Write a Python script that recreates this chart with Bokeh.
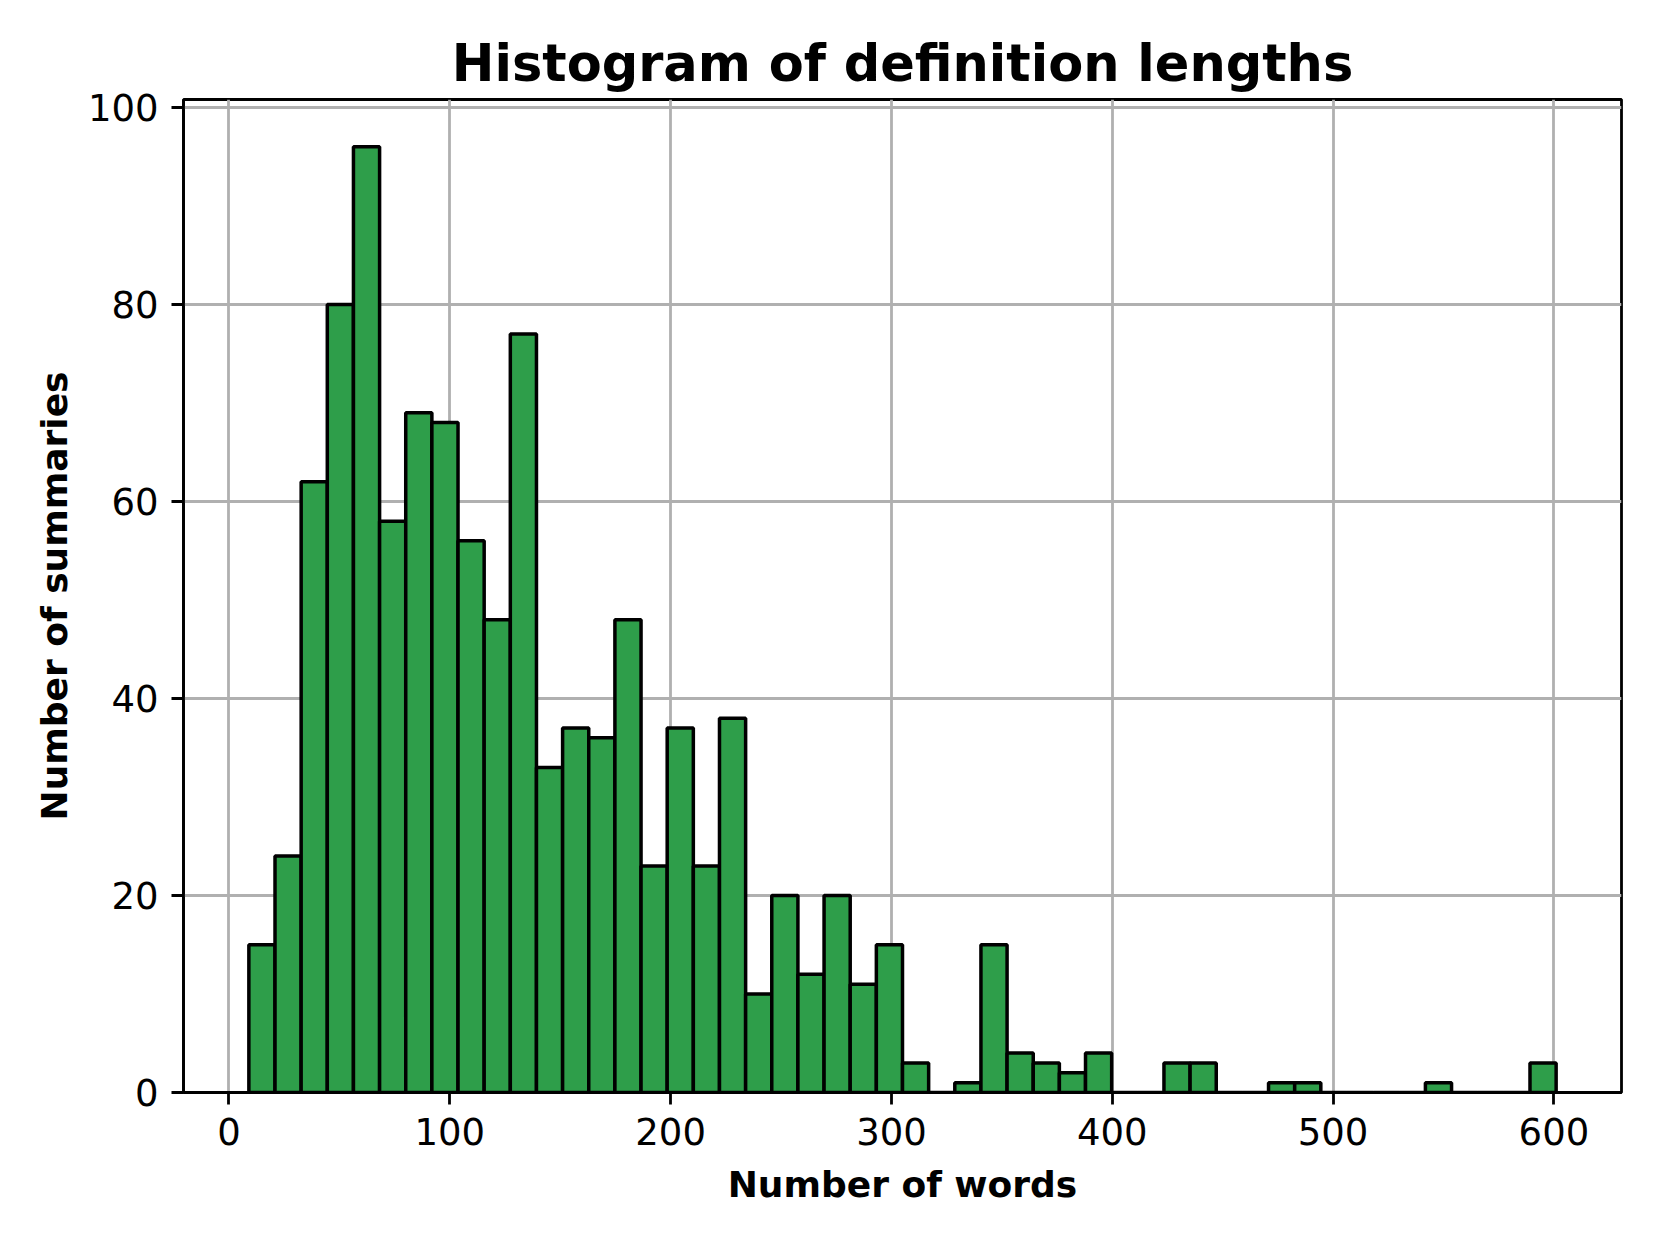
import numpy as np
from bokeh.plotting import figure
from bokeh.models import FixedTicker, Range1d, ColumnDataSource
from bokeh.embed import file_html
from bokeh.resources import INLINE

# ---- data ----
counts = [15, 24, 62, 80, 96, 58, 69, 68, 56, 48,
          77, 33, 37, 36, 48, 23, 37, 23, 38, 10,
          20, 12, 20, 11, 15, 3, 0, 1, 15, 4,
          3, 2, 4, 0, 0, 3, 3, 0, 0, 1,
          1, 0, 0, 0, 0, 1, 0, 0, 0, 3]
bin_min = 9.0
bin_max = 601.0
x_ticks = [0, 100, 200, 300, 400, 500, 600]
y_ticks = [0, 20, 40, 60, 80, 100]
title_text = "Histogram of definition lengths"
x_label = "Number of words"
y_label = "Number of summaries"

edges = np.linspace(bin_min, bin_max, len(counts) + 1)
src = ColumnDataSource(dict(left=edges[:-1], right=edges[1:],
                            top=counts, bottom=[0] * len(counts)))

span = bin_max - bin_min
FONT = "DejaVu Sans"

p = figure(width=1644, height=1229, output_backend="svg", toolbar_location=None,
           x_range=Range1d(bin_min - 0.05 * span, bin_max + 0.05 * span),
           y_range=Range1d(0, max(counts) * 1.05),
           min_border_left=183, min_border_right=23,
           min_border_top=99, min_border_bottom=137)

p.quad(left="left", right="right", top="top", bottom="bottom", source=src,
       fill_color="#2e9e4a", line_color="black", line_width=3.5)

p.title.text = title_text
p.title.align = "center"
p.title.text_font = FONT
p.title.text_font_size = "51px"
p.title.text_font_style = "bold"
p.title.text_color = "black"
p.title.standoff = 14

p.xaxis.ticker = FixedTicker(ticks=x_ticks)
p.yaxis.ticker = FixedTicker(ticks=y_ticks)
p.xaxis.axis_label = x_label
p.yaxis.axis_label = y_label

for ax in (p.xaxis, p.yaxis):
    ax.axis_line_width = 2.8
    ax.axis_line_color = "black"
    ax.major_tick_out = 12
    ax.major_tick_in = 0
    ax.major_tick_line_width = 2.8
    ax.major_tick_line_color = "black"
    ax.minor_tick_out = 0
    ax.minor_tick_in = 0
    ax.major_label_text_font = FONT
    ax.major_label_text_font_size = "37px"
    ax.major_label_text_color = "black"
    ax.major_label_standoff = 13
    ax.axis_label_text_font = FONT
    ax.axis_label_text_font_size = "36px"
    ax.axis_label_text_font_style = "bold"
    ax.axis_label_text_color = "black"

p.xaxis.axis_label_standoff = 16
p.yaxis.axis_label_standoff = 10

p.grid.grid_line_color = "#b0b0b0"
p.grid.grid_line_width = 2.8
p.outline_line_color = "black"
p.outline_line_width = 2.8
p.background_fill_color = "white"
p.border_fill_color = "white"

open("out.html", "w").write(file_html(p, INLINE))
